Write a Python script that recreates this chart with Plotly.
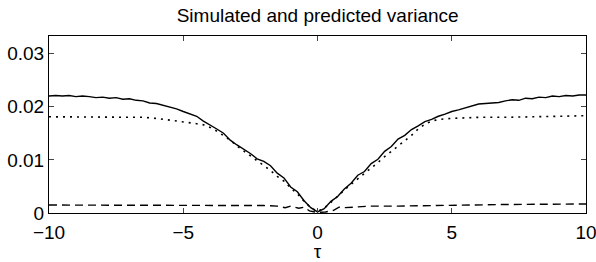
import plotly.graph_objects as go

# Simulated variance (solid)
sim_x = [-10, -9.75, -9.5, -9.25, -9, -8.75, -8.5, -8.25, -8, -7.75, -7.5, -7.25, -7, -6.75, -6.5, -6.25,
         -6, -5.75, -5.5, -5.25, -5, -4.75, -4.5, -4.25, -4, -3.75, -3.5, -3.25, -3, -2.75, -2.5, -2.25,
         -2, -1.75, -1.5, -1.25, -1, -0.75, -0.5, -0.25, 0,
         0.25, 0.5, 0.75, 1, 1.25, 1.5, 1.75, 2, 2.25, 2.5, 2.75, 3, 3.25, 3.5, 3.75, 4, 4.25, 4.5, 4.75,
         5, 5.25, 5.5, 5.75, 6, 6.25, 6.5, 6.75, 7, 7.25, 7.5, 7.75, 8, 8.25, 8.5, 8.75, 9, 9.25, 9.5, 9.75, 10]
sim_y = [0.0220, 0.0221, 0.0220, 0.0221, 0.0219, 0.0220, 0.0219, 0.0217, 0.0218, 0.0216, 0.0217, 0.0214,
         0.0215, 0.0212, 0.0211, 0.0207, 0.0206, 0.0203, 0.0199, 0.0196, 0.0191, 0.0186, 0.0182, 0.0173,
         0.0166, 0.0158, 0.0150, 0.0137, 0.0128, 0.0120, 0.0112, 0.0102, 0.0097, 0.0089, 0.0075, 0.0066,
         0.0049, 0.0040, 0.0023, 0.0010, 0.0002,
         0.0008, 0.0022, 0.0031, 0.0045, 0.0056, 0.0071, 0.0078, 0.0093, 0.0101, 0.0116, 0.0125, 0.0139,
         0.0146, 0.0157, 0.0164, 0.0172, 0.0176, 0.0182, 0.0186, 0.0191, 0.0194, 0.0198, 0.0201, 0.0205,
         0.0206, 0.0207, 0.0208, 0.0211, 0.0213, 0.0212, 0.0216, 0.0215, 0.0218, 0.0217, 0.0220, 0.0219,
         0.0221, 0.0220, 0.0222, 0.0222]

# Predicted variance (dotted)
pred_x = [-10, -9, -8, -7, -6.5, -6, -5.5, -5, -4.5, -4.25, -4, -3.75, -3.5, -3.25, -3, -2.75, -2.5, -2.25,
          -2, -1.75, -1.5, -1.25, -1, -0.75, -0.5, -0.25, 0, 0.25, 0.5, 0.75, 1, 1.25, 1.5, 1.75, 2, 2.25,
          2.5, 2.75, 3, 3.25, 3.5, 3.75, 4, 4.25, 4.5, 5, 5.5, 6, 7, 8, 9, 10]
pred_y = [0.0181, 0.0181, 0.0181, 0.0180, 0.0180, 0.0178, 0.0175, 0.0172, 0.0168, 0.0166, 0.0161, 0.0154,
          0.0146, 0.0137, 0.0126, 0.0117, 0.0107, 0.0098, 0.0090, 0.0080, 0.0069, 0.0060, 0.0047, 0.0036,
          0.0022, 0.0010, 0.0003, 0.0009, 0.0020, 0.0032, 0.0043, 0.0054, 0.0064, 0.0075, 0.0085, 0.0095,
          0.0106, 0.0116, 0.0126, 0.0136, 0.0146, 0.0158, 0.0167, 0.0173, 0.0176, 0.0178, 0.0179, 0.0180,
          0.0180, 0.0181, 0.0182, 0.0183]

# Third series (dashed)
dash_x = [-10, -8, -6, -4, -2, -1.5, -1.2, -1, -0.7, -0.5, -0.3, 0, 0.3, 0.6, 0.8, 1, 1.5, 2, 3, 5, 7, 10]
dash_y = [0.0015, 0.0015, 0.0014, 0.0014, 0.0014, 0.0013, 0.0010, 0.0013, 0.0009, 0.0011, 0.0004, 0.0001,
          0.0002, 0.0005, 0.0011, 0.0010, 0.0012, 0.0013, 0.0013, 0.0015, 0.0016, 0.0017]

x_ticks = [-10, -5, 0, 5, 10]
y_ticks = [0, 0.01, 0.02, 0.03]
y_labels = ["0", "0.01", "0.02", "0.03"]

fig = go.Figure()
fig.add_trace(go.Scatter(x=sim_x, y=sim_y, mode="lines",
                         line=dict(color="black", width=1.4), showlegend=False))
fig.add_trace(go.Scatter(x=pred_x, y=pred_y, mode="lines",
                         line=dict(color="black", width=1.6, dash="2px,5px"), showlegend=False))
fig.add_trace(go.Scatter(x=dash_x, y=dash_y, mode="lines",
                         line=dict(color="black", width=1.4, dash="8px,5px"), showlegend=False))

family = "Liberation Sans, Arial, sans-serif"
tick_font = dict(family=family, size=19, color="black")
title_font = dict(family=family, size=19, color="black")
fig.update_layout(
    template="none",
    width=596, height=262, autosize=False,
    margin=dict(l=49, r=10, t=36, b=49, pad=0),
    paper_bgcolor="white", plot_bgcolor="white",
    font=tick_font,
    title=dict(text="Simulated and predicted variance", x=0.533, xanchor="center",
               y=1 - 15 / 262, yanchor="middle", font=title_font, automargin=False),
)
fig.update_xaxes(range=[-10, 10], tickvals=x_ticks, ticks="inside", ticklen=5,
                 showline=True, linecolor="black", linewidth=1, mirror="ticks",
                 showgrid=False, zeroline=False, automargin=False, ticklabeloverflow="allow",
                 ticklabelstandoff=2,
                 title=dict(text="τ", standoff=0, font=tick_font),
                 tickfont=tick_font)
fig.update_yaxes(range=[0, 0.0333], tickvals=y_ticks, ticktext=y_labels, ticks="inside", ticklen=5,
                 showline=True, linecolor="black", linewidth=1, mirror="ticks",
                 showgrid=False, zeroline=False, automargin=False, ticklabeloverflow="allow",
                 tickfont=tick_font)

fig.write_html("out.html", config={"displayModeBar": False, "responsive": False},
               post_script="document.body.style.margin='0';")
